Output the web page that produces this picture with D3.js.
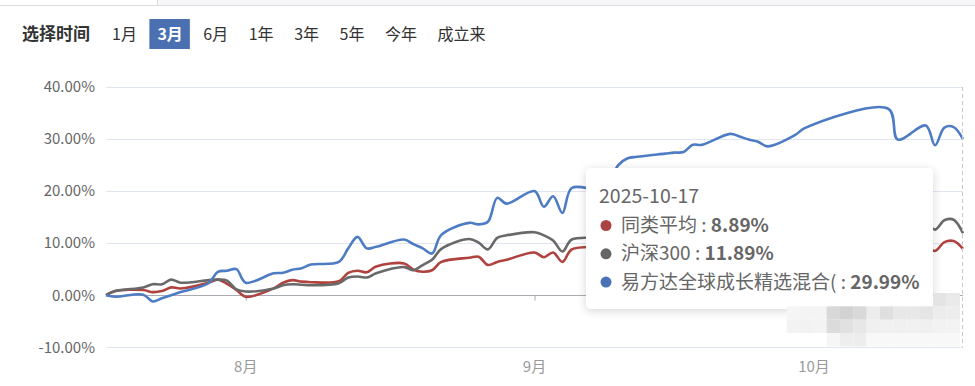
<!DOCTYPE html>
<meta charset="utf-8">
<head>
  <title>3月 业绩走势</title>
  <script src="https://d3js.org/d3.v7.min.js"></script>
  <style>
    body { margin: 0; background: #fff; }
    svg { display: block; font-family: "Microsoft YaHei", "Noto Sans CJK SC", sans-serif; }
  </style>
</head>
<body>
  <svg id="chart" width="975" height="386"></svg>
  <script>
    // trading days, 2025-07-17 .. 2025-10-17
    var dates = [
      "2025-07-17","2025-07-18","2025-07-21","2025-07-22","2025-07-23","2025-07-24","2025-07-25",
      "2025-07-28","2025-07-29","2025-07-30","2025-07-31","2025-08-01",
      "2025-08-04","2025-08-05","2025-08-06","2025-08-07","2025-08-08",
      "2025-08-11","2025-08-12","2025-08-13","2025-08-14","2025-08-15",
      "2025-08-18","2025-08-19","2025-08-20","2025-08-21","2025-08-22",
      "2025-08-25","2025-08-26","2025-08-27","2025-08-28","2025-08-29",
      "2025-09-01","2025-09-02","2025-09-03","2025-09-04","2025-09-05",
      "2025-09-08","2025-09-09","2025-09-10","2025-09-11","2025-09-12",
      "2025-09-15","2025-09-16","2025-09-17","2025-09-18","2025-09-19",
      "2025-09-22","2025-09-23","2025-09-24","2025-09-25","2025-09-26",
      "2025-09-29","2025-09-30",
      "2025-10-09","2025-10-10","2025-10-13","2025-10-14","2025-10-15","2025-10-16","2025-10-17"
    ];

    // 同类平均 (%)
    var peerAvg = [
      0, 0.8, 1.0, 0.6, 0.8, 1.5, 1.3,
      2.4, 3.0, 2.2, 1.0, -0.3,
      1.3, 2.4, 2.9, 2.6, 2.5,
      2.7, 4.3, 4.7, 4.4, 5.5,
      6.1, 4.9, 4.5, 4.8, 6.4,
      7.2, 7.4, 5.8, 6.4, 6.8,
      8.2, 7.3, 8.2, 6.4, 8.8,
      9.3, 9.5, 9.8, 10.3, 10.6,
      10.4, 10.7, 11.0, 10.2, 10.4,
      10.6, 10.0, 10.8, 10.9, 10.5,
      11.0, 11.3,
      11.8, 9.6, 9.4, 8.5, 10.2, 10.4, 8.89
    ];

    // 沪深300 (%)
    var csi300 = [
      0, 0.8, 1.5, 2.1, 2.1, 3.0, 2.4,
      2.9, 3.0, 2.8, 1.1, 0.7,
      1.3, 1.9, 2.1, 2.0, 1.9,
      2.3, 3.4, 3.6, 3.4, 4.2,
      5.4, 4.8, 5.8, 6.8, 8.9,
      10.8, 10.1, 8.8, 11.0, 11.5,
      12.1, 11.5, 10.5, 8.4, 10.7,
      11.0, 11.2, 11.5, 13.6, 13.4,
      13.5, 13.2, 14.1, 12.6, 12.5,
      12.9, 12.1, 13.4, 13.3, 12.4,
      14.1, 14.4,
      16.1, 14.6, 14.0, 12.6, 14.4, 14.5, 11.89
    ];

    // 易方达全球成长精选混合 (%)
    var fund = [
      0, -0.3, 0.1, -1.2, -0.6, 0.0, 0.6,
      2.3, 4.5, 4.7, 5.0, 2.4,
      4.2, 4.3, 4.9, 5.2, 5.9,
      6.4, 9.0, 11.2, 9.0, 9.3,
      10.7, 9.8, 9.0, 8.0, 11.6,
      13.9, 13.6, 14.1, 18.7, 17.6,
      20.0, 17.0, 19.0, 15.8, 20.6,
      20.4, 22.0, 25.0, 26.3, 26.6,
      27.2, 27.4, 27.5, 28.9, 28.9,
      31.0, 30.5, 29.9, 29.5, 28.6,
      30.8, 32.1,
      35.8, 29.9, 32.6, 28.8, 32.2, 32.3, 29.99
    ];

    var seriesNames = ["同类平均", "沪深300", "易方达全球成长精选混合("];
    var seriesColors = ["#b0423f", "#696969", "#4e7cc4"];
    var dotColors = ["#a94442", "#666666", "#4a72b5"];
    var yTicks = [-10, 0, 10, 20, 30, 40];
    var periods = ["1月", "3月", "6月", "1年", "3年", "5年", "今年", "成立来"];
    var selectedPeriod = "3月";

    var svg = d3.select("#chart"),
        width = +svg.attr("width"),
        height = +svg.attr("height");

    var margin = {left: 106, right: 12, top: 87, bottom: 38};

    var parse = d3.utcParse("%Y-%m-%d");
    var days = dates.map(parse);

    var x = d3.scaleUtc()
      .domain(d3.extent(days))
      .range([margin.left, width - margin.right]);

    var y = d3.scaleLinear()
      .domain([-10, 40])
      .range([height - margin.bottom - 0.75, margin.top]);

    // top strip of the page above
    svg.append("rect").attr("x", 157).attr("y", 0).attr("width", width - 157).attr("height", 5).attr("fill", "#f7f7f9");
    svg.append("line").attr("x1", 0).attr("x2", width).attr("y1", 5.5).attr("y2", 5.5).attr("stroke", "#dcdcdc");
    svg.append("line").attr("x1", 157.5).attr("x2", 157.5).attr("y1", 0).attr("y2", 5).attr("stroke", "#dcdcdc");

    // period selector
    var bar = svg.append("g").attr("class", "periods");
    var label = bar.append("text")
      .attr("x", 22).attr("y", 34).attr("dy", "0.35em")
      .attr("font-size", 17).attr("font-weight", "bold").attr("fill", "#333")
      .text("选择时间");
    var px = 22 + label.node().getComputedTextLength() + 22;
    periods.forEach(function(p) {
      var g = bar.append("g");
      var t = g.append("text")
        .attr("x", px).attr("y", 34).attr("dy", "0.35em")
        .attr("font-size", 16)
        .attr("fill", p === selectedPeriod ? "#fff" : "#333")
        .attr("font-weight", p === selectedPeriod ? "bold" : "normal")
        .text(p);
      var w = t.node().getComputedTextLength();
      if (p === selectedPeriod) {
        g.insert("rect", "text")
          .attr("x", px - 8).attr("y", 19).attr("width", w + 15).attr("height", 30)
          .attr("fill", "#4b70b1");
      }
      px += w + 20.5;
    });

    // grid
    svg.append("g")
      .selectAll("line")
      .data(yTicks.filter(function(d) { return d !== 0; }))
      .join("line")
        .attr("x1", margin.left).attr("x2", width - margin.right)
        .attr("y1", function(d) { return Math.round(y(d)) + 0.5; })
        .attr("y2", function(d) { return Math.round(y(d)) + 0.5; })
        .attr("stroke", "#e0e6f1");

    // y labels
    var yAxis = svg.append("g")
      .attr("transform", "translate(" + margin.left + ",0)")
      .call(d3.axisLeft(y).tickValues(yTicks).tickSize(0).tickPadding(11)
        .tickFormat(function(d) { return d.toFixed(2) + "%"; }));
    yAxis.select(".domain").remove();
    yAxis.selectAll("text")
      .attr("font-size", 15)
      .attr("font-family", "\"Microsoft YaHei\", \"Noto Sans CJK SC\", sans-serif")
      .attr("fill", "#666");

    // zero axis with month ticks
    var months = d3.utcMonth.range(x.domain()[0], x.domain()[1]);
    var xAxis = svg.append("g")
      .attr("transform", "translate(0," + (Math.round(y(0)) + 0.5) + ")")
      .call(d3.axisBottom(x).tickValues(months).tickSize(5).tickFormat(""));
    xAxis.select(".domain").attr("stroke", "#a9abb2").attr("d", "M" + margin.left + ",0H" + (width - margin.right));
    xAxis.selectAll(".tick line").attr("stroke", "#a9abb2");

    svg.append("g")
      .selectAll("text")
      .data(months)
      .join("text")
        .attr("x", function(d) { return x(d); })
        .attr("y", 367).attr("dy", "0.35em")
        .attr("text-anchor", "middle")
        .attr("font-size", 15)
        .attr("fill", "#9a9a9a")
        .text(function(d) { return (d.getUTCMonth() + 1) + "月"; });

    // series
    var allSeries = [peerAvg, csi300, fund];
    var line = d3.line()
      .x(function(d, i) { return x(days[i]); })
      .y(function(d) { return y(d); })
      .curve(d3.curveCatmullRom.alpha(0.5));

    svg.append("g")
      .selectAll("path")
      .data(allSeries)
      .join("path")
        .attr("fill", "none")
        .attr("stroke", function(d, i) { return seriesColors[i]; })
        .attr("stroke-width", 2.6)
        .attr("stroke-linejoin", "round")
        .attr("d", line);

    // axis pointer at the last day
    var last = days.length - 1;
    svg.append("line")
      .attr("x1", Math.round(x(days[last])) - 0.5).attr("x2", Math.round(x(days[last])) - 0.5)
      .attr("y1", y(40)).attr("y2", y(-10))
      .attr("stroke", "#c4c8d2").attr("stroke-dasharray", "4,3");

    // tooltip
    var defs = svg.append("defs");
    var f = defs.append("filter").attr("id", "shadow").attr("x", "-10%").attr("y", "-10%").attr("width", "120%").attr("height", "130%");
    f.append("feDropShadow").attr("dx", 0).attr("dy", 2).attr("stdDeviation", 5).attr("flood-color", "#000").attr("flood-opacity", 0.16);

    var tipX = x(days[last]) - 377, tipY = 168;
    var tip = svg.append("g").attr("transform", "translate(" + tipX + "," + tipY + ")");
    tip.append("rect")
      .attr("width", 347).attr("height", 141).attr("rx", 5)
      .attr("fill", "#fff").attr("filter", "url(#shadow)");
    tip.append("text")
      .attr("x", 13).attr("y", 35)
      .attr("font-size", 19.5).attr("fill", "#666")
      .text(d3.utcFormat("%Y-%m-%d")(days[last]));

    var rows = tip.selectAll("g.row")
      .data(seriesNames)
      .join("g")
        .attr("class", "row")
        .attr("transform", function(d, i) { return "translate(0," + (64 + i * 28.3) + ")"; });
    rows.append("circle")
      .attr("cx", 20).attr("cy", -6.5).attr("r", 5.5)
      .attr("fill", function(d, i) { return dotColors[i]; });
    var rt = rows.append("text")
      .attr("x", 35).attr("font-size", 19).attr("fill", "#666");
    rt.append("tspan").text(function(d) { return d + " : "; });
    rt.append("tspan").attr("font-weight", "bold")
      .text(function(d, i) { return allSeries[i][last].toFixed(2) + "%"; });

    // pixelated privacy patch at the bottom right
    var mosaic = [
      [12,0,"#e4e4e4"],[13,0,"#eaeaea"],
      [1,1,"#f5f5f5"],[2,1,"#f4f4f4"],[3,1,"#f4f4f4"],[4,1,"#d8d8d8"],[5,1,"#d2d2d2"],[6,1,"#d9d9d9"],[7,1,"#ececec"],
      [8,1,"#dfdfdf"],[9,1,"#e8e8e8"],[10,1,"#e8e8e8"],[11,1,"#e5e5e5"],[12,1,"#ececec"],[13,1,"#ededed"],
      [1,2,"#f3f3f3"],[2,2,"#f2f2f2"],[3,2,"#f3f3f3"],[4,2,"#dbdbdb"],[5,2,"#e1e1e1"],[6,2,"#e7e7e7"],[7,2,"#f0f0f0"],
      [8,2,"#f1f1f1"],[9,2,"#f0f0f0"],[10,2,"#f1f1f1"],[11,2,"#f0f0f0"],[12,2,"#f2f2f2"],[13,2,"#f3f3f3"],
      [4,3,"#f6f6f6"],[5,3,"#eeeeee"],[6,3,"#ededed"],[7,3,"#f8f8f8"],[8,3,"#f8f8f8"],[9,3,"#f8f8f8"],[10,3,"#f8f8f8"],
      [11,3,"#f8f8f8"],[12,3,"#f8f8f8"],[13,3,"#f8f8f8"]
    ];
    svg.append("g")
      .selectAll("rect")
      .data(mosaic)
      .join("rect")
        .attr("x", function(d) { return 773.3 + d[0] * 13.33; })
        .attr("y", function(d) { return 293 + d[1] * 13.33; })
        .attr("width", 13.4).attr("height", 13.4)
        .attr("fill", function(d) { return d[2]; });
  </script>
</body>
</html>
